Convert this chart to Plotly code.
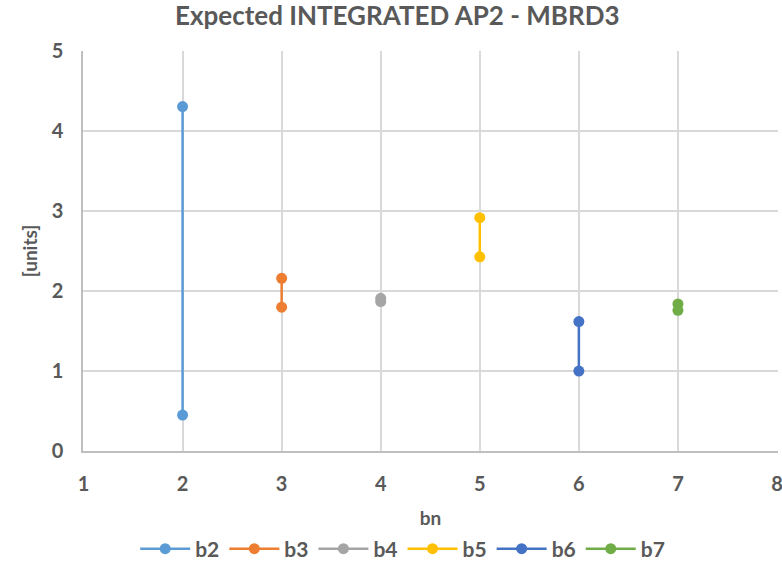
import plotly.graph_objects as go

series = ["b2", "b3", "b4", "b5", "b6", "b7"]
x_pos = [2, 3, 4, 5, 6, 7]
y_high = [4.31, 2.16, 1.91, 2.92, 1.62, 1.84]
y_low = [0.45, 1.80, 1.87, 2.43, 1.00, 1.76]
colors = ["#5B9BD5", "#ED7D31", "#A5A5A5", "#FFC000", "#4472C4", "#70AD47"]

font_family = "Lato, 'Open Sans', sans-serif"
grey = "#595959"

fig = go.Figure()
for name, x, hi, lo, c in zip(series, x_pos, y_high, y_low, colors):
    fig.add_trace(go.Scatter(
        x=[x, x], y=[hi, lo], name="<b>" + name + "</b>", mode="lines+markers",
        line=dict(color=c, width=2.5),
        marker=dict(color=c, size=11),
    ))

fig.update_layout(
    width=782, height=561,
    margin=dict(l=83, r=4, t=51, b=110, autoexpand=False),
    paper_bgcolor="white", plot_bgcolor="white",
    title=dict(text="<b>Expected INTEGRATED AP2 - MBRD3</b>", x=0.508, xanchor="center",
               y=0.972, yanchor="middle",
               font=dict(family=font_family, size=26, color=grey)),
    font=dict(family=font_family, color=grey),
    xaxis=dict(range=[0.995, 8.01], dtick=1, tick0=1, showgrid=True, gridcolor="#D9D9D9", gridwidth=1.5,
               showline=True, linecolor="#BFBFBF", linewidth=1.5, zeroline=False, automargin=False,
               tickfont=dict(size=20, color=grey, family=font_family), tickprefix="<b>", ticksuffix="</b>",
               ticks="outside", ticklen=14, tickcolor="white", ticklabeloverflow="allow",
               title=dict(text="<b>bn</b>", font=dict(size=19, color=grey), standoff=18)),
    yaxis=dict(range=[0, 5.005], dtick=1, showgrid=True, gridcolor="#D9D9D9", gridwidth=1.5,
               showline=True, linecolor="#BFBFBF", linewidth=1.5, zeroline=False, automargin=False,
               tickfont=dict(size=20, color=grey, family=font_family), tickprefix="<b>", ticksuffix="</b>",
               ticks="outside", ticklen=14, tickcolor="white",
               title=dict(text="<b>[units]</b>", font=dict(size=19, color=grey), standoff=9)),
    legend=dict(orientation="h", x=0.46, xanchor="center", y=-0.245, yanchor="middle",
                font=dict(size=21, color=grey, family=font_family), itemwidth=50,
                traceorder="normal"),
    showlegend=True,
)

fig.write_html("out.html")
